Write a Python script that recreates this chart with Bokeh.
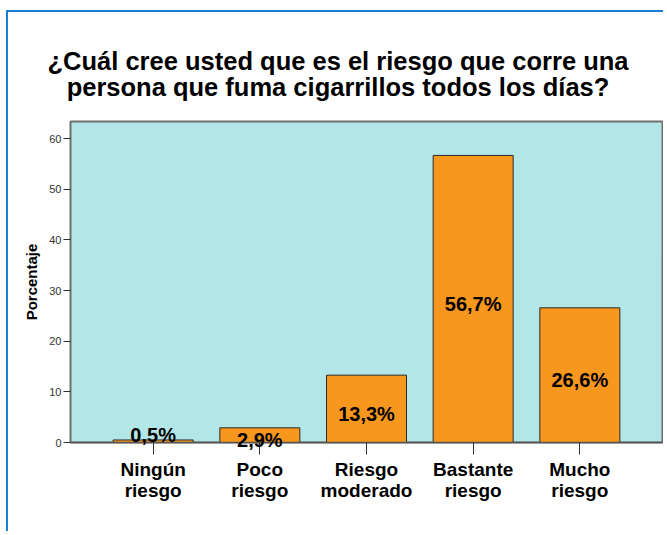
from bokeh.plotting import figure
from bokeh.models import (ColumnDataSource, FixedTicker, Range1d, LabelSet,
                          Label, BoxAnnotation)
from bokeh.embed import file_html
from bokeh.resources import INLINE
from bokeh.core.properties import value
import numpy as np

categories = ["Ningún\nriesgo", "Poco\nriesgo", "Riesgo\nmoderado", "Bastante\nriesgo", "Mucho\nriesgo"]
percentages = [0.5, 2.9, 13.3, 56.7, 26.6]
y_ticks = [0, 10, 20, 30, 40, 50, 60]
title_lines = ["¿Cuál cree usted que es el riesgo que corre una",
               "persona que fuma cigarrillos todos los días?"]

FONT = "Liberation Sans"

# ---- layout (canvas pixels); the frame covers the whole canvas ----
W, H = 657, 521
PLOT_LEFT_PX, PLOT_RIGHT_PX, PLOT_TOP_PX, PLOT_BOTTOM_PX = 62, 654, 109, 430

Y_PLOT_MAX = 63.4                      # value at the top of the plot area
PX_PER_UNIT = (PLOT_BOTTOM_PX - PLOT_TOP_PX) / Y_PLOT_MAX
Y_MIN = -(H - PLOT_BOTTOM_PX) / PX_PER_UNIT
Y_MAX = PLOT_BOTTOM_PX / PX_PER_UNIT

X_PLOT_MIN, X_PLOT_MAX = 0.225, 5.775  # category axis limits of the plot area
PX_PER_X = (PLOT_RIGHT_PX - PLOT_LEFT_PX) / (X_PLOT_MAX - X_PLOT_MIN)
X_MIN = X_PLOT_MIN - PLOT_LEFT_PX / PX_PER_X
X_MAX = X_PLOT_MAX + (W - PLOT_RIGHT_PX) / PX_PER_X

x = np.arange(1, len(categories) + 1)
vals = np.array(percentages)
labels = [f"{v:.1f}".replace(".", ",") + "%" for v in vals]
label_y = np.where(vals < 1, vals + 1.0, vals / 2 - 1.0)

src = ColumnDataSource(dict(x=x, top=vals, label=labels, ly=label_y))

p = figure(width=W, height=H, title=None,
           x_range=Range1d(X_MIN, X_MAX), y_range=Range1d(Y_MIN, Y_MAX),
           output_backend="svg", toolbar_location=None,
           min_border_left=0, min_border_right=0,
           min_border_top=0, min_border_bottom=0)

p.styles = {"border-left": "2px solid #1a7fd4", "border-top": "2px solid #1a7fd4",
            "margin-left": "6px", "margin-top": "10px"}

p.background_fill_color = "white"
p.border_fill_color = "white"
p.outline_line_color = None
p.xgrid.visible = False
p.ygrid.visible = False

p.add_layout(BoxAnnotation(left=X_PLOT_MIN, right=X_PLOT_MAX, bottom=0, top=Y_PLOT_MAX,
                           fill_color="#b3e6e7", fill_alpha=1.0,
                           line_color="#6e6e6e", line_alpha=1.0, line_width=2,
                           level="underlay"))

p.vbar(x="x", top="top", bottom=0, width=0.75, source=src,
       fill_color="#f8971e", line_color="#2a2a2a", line_width=1)

p.add_layout(LabelSet(x="x", y="ly", text="label", source=src,
                      text_align="center", text_baseline="middle",
                      text_font=value(FONT), text_font_style="bold",
                      text_font_size="20px", text_color="black"))

xa = p.xaxis[0]
xa.fixed_location = 0
xa.bounds = (X_PLOT_MIN, X_PLOT_MAX)
xa.ticker = FixedTicker(ticks=x.tolist())
xa.major_label_overrides = {int(i): c for i, c in zip(x.tolist(), categories)}
xa.major_tick_out = 12
xa.major_tick_in = 0
xa.minor_tick_line_color = None
xa.axis_line_color = "#555555"
xa.axis_line_width = 1.5
xa.major_tick_line_color = "#333333"
xa.major_label_text_font = FONT
xa.major_label_text_font_style = "bold"
xa.major_label_text_font_size = "19px"
xa.major_label_text_color = "black"
xa.major_label_text_line_height = 1.0
xa.major_label_standoff = 4

ya = p.yaxis[0]
ya.fixed_location = X_PLOT_MIN
ya.bounds = (0, Y_PLOT_MAX)
ya.ticker = FixedTicker(ticks=y_ticks)
ya.major_tick_out = 7
ya.major_tick_in = 0
ya.minor_tick_line_color = None
ya.axis_line_color = None
ya.major_tick_line_color = "#333333"
ya.major_label_text_font = FONT
ya.major_label_text_font_size = "11px"
ya.major_label_text_color = "#333333"
ya.major_label_standoff = 2
ya.axis_label = "Porcentaje"
ya.axis_label_text_font = FONT
ya.axis_label_text_font_style = "bold"
ya.axis_label_text_font_size = "15px"
ya.axis_label_text_color = "black"
ya.axis_label_standoff = 6

# title, two centred lines above the plot area
title_cx = X_PLOT_MIN + (329.5 - PLOT_LEFT_PX) / PX_PER_X
for txt, base_px in zip(title_lines, [48.5, 74]):
    p.add_layout(Label(x=title_cx, y=(PLOT_BOTTOM_PX - base_px) / PX_PER_UNIT, text=txt,
                       text_align="center", text_baseline="alphabetic",
                       text_font=FONT, text_font_style="bold",
                       text_font_size="25.5px", text_color="black"))

open("out.html", "w").write(file_html(p, INLINE))
